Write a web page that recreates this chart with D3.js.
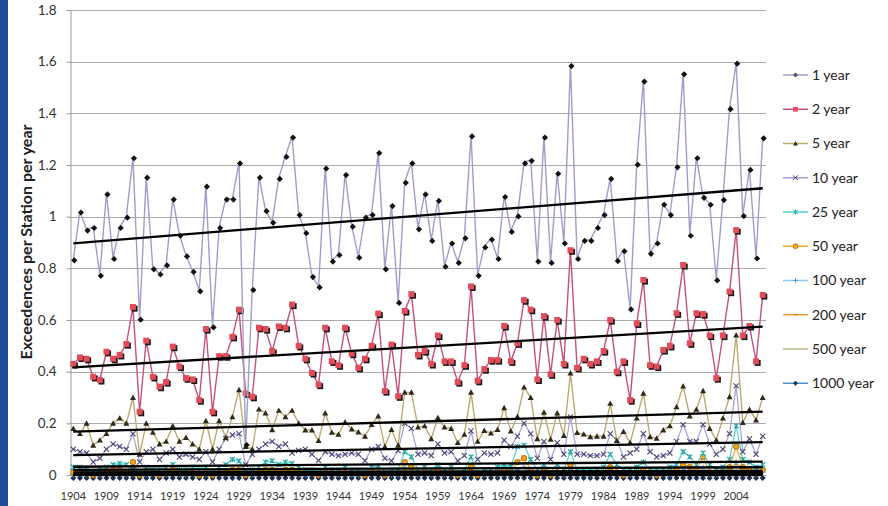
<!DOCTYPE html>
<head>
  <meta charset="utf-8">
  <script src="https://cdn.jsdelivr.net/npm/d3@7"></script>
  <style>
    body { margin: 0; background: #fff; }
    text { font-family: Lato, "Open Sans", sans-serif; }
  </style>
</head>
<body>
<script>

  // ---- data ----
  let years = d3.range(1904, 2009);
  let xTickLabels = ["1904", "1909", "1914", "1919", "1924", "1929", "1934", "1939", "1944", "1949", "1954",
    "1959", "1964", "1969", "1974", "1979", "1984", "1989", "1994", "1999", "2004"];
  let yTicks = [0, 0.2, 0.4, 0.6, 0.8, 1, 1.2, 1.4, 1.6, 1.8];
  let seriesNames = ["1 year", "2 year", "5 year", "10 year", "25 year", "50 year", "100 year", "200 year", "500 year", "1000 year"];

  let yr1 = [
    0.835, 1.02, 0.95, 0.96, 0.775, 1.09, 0.84, 0.96, 1.0, 1.23,
    0.605, 1.155, 0.80, 0.78, 0.815, 1.07, 0.93, 0.85, 0.79, 0.715,
    1.12, 0.575, 0.96, 1.07, 1.07, 1.21, 0.12, 0.72, 1.155, 1.025,
    0.98, 1.15, 1.235, 1.31, 1.01, 0.94, 0.77, 0.73, 1.19, 0.83,
    0.855, 1.165, 0.965, 0.845, 1.0, 1.01, 1.25, 0.80, 1.045, 0.67,
    1.135, 1.21, 0.955, 1.09, 0.91, 1.065, 0.81, 0.90, 0.825, 0.92,
    1.315, 0.775, 0.885, 0.915, 0.84, 1.08, 0.945, 1.005, 1.21, 1.22,
    0.83, 1.31, 0.825, 1.17, 0.90, 1.587, 0.84, 0.91, 0.91, 0.96,
    1.01, 1.15, 0.832, 0.87, 0.645, 1.205, 1.527, 0.86, 0.90, 1.05,
    1.01, 1.195, 1.555, 0.93, 1.23, 1.077, 1.05, 0.757, 1.068, 1.42,
    1.596, 1.006, 1.185, 0.842, 1.307];

  let yr2 = [
    0.43, 0.455, 0.45, 0.38, 0.368, 0.477, 0.45, 0.465, 0.507, 0.65,
    0.245, 0.52, 0.38, 0.342, 0.36, 0.497, 0.42, 0.375, 0.37, 0.29,
    0.565, 0.245, 0.46, 0.46, 0.535, 0.64, 0.316, 0.303, 0.57, 0.565,
    0.48, 0.575, 0.57, 0.66, 0.50, 0.45, 0.395, 0.35, 0.57, 0.44,
    0.425, 0.57, 0.47, 0.415, 0.45, 0.50, 0.625, 0.325, 0.505, 0.305,
    0.635, 0.70, 0.465, 0.48, 0.43, 0.54, 0.44, 0.44, 0.36, 0.425,
    0.73, 0.365, 0.41, 0.445, 0.445, 0.577, 0.44, 0.51, 0.677, 0.64,
    0.37, 0.615, 0.39, 0.60, 0.43, 0.87, 0.415, 0.45, 0.43, 0.44,
    0.48, 0.60, 0.40, 0.44, 0.29, 0.587, 0.755, 0.425, 0.42, 0.484,
    0.50, 0.626, 0.813, 0.51, 0.626, 0.623, 0.54, 0.375, 0.54, 0.71,
    0.948, 0.54, 0.577, 0.44, 0.697];

  let yr5 = [
    0.18, 0.16, 0.20, 0.115, 0.135, 0.16, 0.20, 0.22, 0.20, 0.30,
    0.08, 0.20, 0.165, 0.12, 0.13, 0.19, 0.13, 0.145, 0.12, 0.10,
    0.21, 0.10, 0.21, 0.145, 0.225, 0.33, 0.11, 0.10, 0.255, 0.24,
    0.175, 0.25, 0.225, 0.25, 0.20, 0.174, 0.174, 0.133, 0.24, 0.165,
    0.157, 0.205, 0.178, 0.166, 0.15, 0.195, 0.228, 0.11, 0.176, 0.115,
    0.32, 0.32, 0.185, 0.19, 0.14, 0.222, 0.185, 0.18, 0.125, 0.157,
    0.32, 0.13, 0.172, 0.162, 0.176, 0.26, 0.17, 0.226, 0.34, 0.30,
    0.14, 0.243, 0.138, 0.24, 0.153, 0.394, 0.164, 0.158, 0.148, 0.15,
    0.15, 0.277, 0.133, 0.168, 0.125, 0.22, 0.316, 0.148, 0.142, 0.174,
    0.19, 0.264, 0.344, 0.228, 0.254, 0.326, 0.18, 0.135, 0.22, 0.303,
    0.542, 0.203, 0.254, 0.213, 0.30];

  let yr10 = [
    0.10, 0.09, 0.085, 0.05, 0.065, 0.10, 0.12, 0.11, 0.10, 0.16,
    0.05, 0.09, 0.10, 0.06, 0.085, 0.10, 0.07, 0.08, 0.07, 0.06,
    0.09, 0.05, 0.10, 0.14, 0.155, 0.16, 0.04, 0.08, 0.10, 0.12,
    0.13, 0.11, 0.12, 0.085, 0.095, 0.10, 0.08, 0.056, 0.09, 0.08,
    0.075, 0.08, 0.085, 0.08, 0.055, 0.10, 0.11, 0.065, 0.055, 0.095,
    0.20, 0.18, 0.08, 0.085, 0.075, 0.12, 0.085, 0.09, 0.055, 0.075,
    0.17, 0.06, 0.085, 0.08, 0.085, 0.135, 0.11, 0.15, 0.20, 0.16,
    0.065, 0.13, 0.06, 0.125, 0.08, 0.225, 0.08, 0.08, 0.075, 0.075,
    0.08, 0.16, 0.135, 0.07, 0.085, 0.10, 0.16, 0.09, 0.07, 0.075,
    0.085, 0.13, 0.195, 0.13, 0.13, 0.195, 0.12, 0.08, 0.10, 0.16,
    0.345, 0.09, 0.14, 0.08, 0.15];

  let yr25 = [
    0.03, 0.03, 0.02, 0.01, 0.02, 0.03, 0.04, 0.045, 0.04, 0.02,
    0.01, 0.03, 0.02, 0.02, 0.03, 0.04, 0.02, 0.02, 0.03, 0.02,
    0.03, 0.01, 0.03, 0.04, 0.06, 0.055, 0.01, 0.02, 0.03, 0.05,
    0.055, 0.04, 0.05, 0.045, 0.03, 0.02, 0.02, 0.01, 0.03, 0.02,
    0.02, 0.03, 0.02, 0.02, 0.01, 0.03, 0.035, 0.01, 0.02, 0.02,
    0.09, 0.07, 0.02, 0.03, 0.02, 0.04, 0.02, 0.03, 0.01, 0.02,
    0.07, 0.01, 0.02, 0.02, 0.03, 0.04, 0.03, 0.11, 0.115, 0.06,
    0.02, 0.04, 0.01, 0.04, 0.02, 0.09, 0.02, 0.02, 0.02, 0.02,
    0.03, 0.08, 0.04, 0.02, 0.02, 0.03, 0.05, 0.02, 0.02, 0.02,
    0.03, 0.04, 0.09, 0.07, 0.04, 0.085, 0.04, 0.02, 0.03, 0.06,
    0.19, 0.06, 0.05, 0.03, 0.04];

  let yr50 = [
    0.01, 0.01, 0.01, 0, 0.01, 0.01, 0.02, 0.02, 0.01, 0.05,
    0, 0.01, 0.01, 0, 0.01, 0.02, 0.01, 0.01, 0.01, 0,
    0.01, 0, 0.01, 0.01, 0.02, 0.02, 0, 0.01, 0.01, 0.02,
    0.02, 0.01, 0.02, 0.02, 0.01, 0.01, 0.01, 0, 0.01, 0.01,
    0.01, 0.01, 0.01, 0.01, 0, 0.01, 0.01, 0, 0.01, 0.01,
    0.05, 0.03, 0.01, 0.01, 0.01, 0.02, 0.01, 0.01, 0, 0.01,
    0.03, 0, 0.01, 0.01, 0.01, 0.02, 0.01, 0.05, 0.065, 0.02,
    0, 0.02, 0, 0.01, 0.01, 0.04, 0.01, 0.01, 0.01, 0.01,
    0.01, 0.03, 0.01, 0, 0.01, 0.01, 0.02, 0.01, 0, 0.01,
    0.01, 0.02, 0.04, 0.03, 0.02, 0.07, 0.01, 0.01, 0.01, 0.03,
    0.11, 0.03, 0.02, 0.01, 0.02];

  let yr100 = [
    0, 0.01, 0, 0, 0, 0.01, 0.01, 0.01, 0, 0.02,
    0, 0, 0.01, 0, 0, 0.01, 0, 0, 0.01, 0,
    0, 0, 0.01, 0, 0.01, 0.01, 0, 0, 0.01, 0.01,
    0.01, 0.01, 0.01, 0.01, 0, 0, 0.01, 0, 0, 0.01,
    0, 0.01, 0, 0, 0, 0.01, 0.01, 0, 0, 0,
    0.03, 0.02, 0, 0.01, 0, 0.01, 0, 0.01, 0, 0,
    0.02, 0, 0, 0.01, 0, 0.01, 0.01, 0.02, 0.03, 0.01,
    0, 0.01, 0, 0.01, 0, 0.02, 0, 0.01, 0, 0.01,
    0, 0.02, 0.01, 0, 0, 0.01, 0.01, 0, 0, 0.01,
    0, 0.01, 0.02, 0.01, 0.01, 0.03, 0, 0, 0.01, 0.02,
    0.05, 0.02, 0.01, 0, 0.01];

  let yr200 = [
    0, 0, 0, 0, 0, 0, 0.01, 0, 0, 0.03,
    0, 0, 0, 0, 0, 0.01, 0, 0, 0, 0,
    0, 0, 0, 0, 0.01, 0.01, 0, 0, 0, 0.01,
    0.01, 0, 0.01, 0, 0, 0, 0, 0, 0, 0,
    0, 0, 0, 0, 0, 0, 0.01, 0, 0, 0,
    0.02, 0.01, 0, 0, 0, 0, 0, 0, 0, 0,
    0.01, 0, 0, 0, 0, 0, 0, 0.02, 0.03, 0,
    0, 0, 0, 0, 0, 0.02, 0, 0, 0, 0,
    0, 0.01, 0, 0, 0, 0, 0.01, 0, 0, 0,
    0, 0, 0.01, 0.01, 0, 0.03, 0, 0, 0, 0.01,
    0.04, 0.01, 0, 0, 0.01];

  let yr500 = [
    0, 0, 0, 0, 0, 0, 0, 0, 0, 0.01,
    0, 0, 0, 0, 0, 0, 0, 0, 0, 0,
    0, 0, 0, 0, 0, 0, 0, 0, 0, 0,
    0, 0, 0, 0, 0, 0, 0, 0, 0, 0,
    0, 0, 0, 0, 0, 0, 0, 0, 0, 0,
    0.01, 0, 0, 0, 0, 0, 0, 0, 0, 0,
    0, 0, 0, 0, 0, 0, 0, 0, 0.01, 0,
    0, 0, 0, 0, 0, 0.01, 0, 0, 0, 0,
    0, 0, 0, 0, 0, 0, 0, 0, 0, 0,
    0, 0, 0, 0, 0, 0.01, 0, 0, 0, 0,
    0.02, 0, 0, 0, 0];

  let yr1000 = [
    0, 0, 0, 0, 0, 0, 0, 0, 0, 0,
    0, 0, 0, 0, 0, 0, 0, 0, 0, 0,
    0, 0, 0, 0, 0, 0, 0, 0, 0, 0,
    0, 0, 0, 0, 0, 0, 0, 0, 0, 0,
    0, 0, 0, 0, 0, 0, 0, 0, 0, 0,
    0, 0, 0, 0, 0, 0, 0, 0, 0, 0,
    0, 0, 0, 0, 0, 0, 0, 0, 0, 0,
    0, 0, 0, 0, 0, 0, 0, 0, 0, 0,
    0, 0, 0, 0, 0, 0, 0, 0, 0, 0,
    0, 0, 0, 0, 0, 0, 0, 0, 0, 0,
    0, 0, 0, 0, 0];

  // linear trend line ends (first year, last year), one per series
  let trendStart = [0.897, 0.417, 0.168, 0.077, 0.032, 0.02, 0.01, 0.005, 0.002, 0];
  let trendEnd = [1.11, 0.574, 0.245, 0.127, 0.052, 0.03, 0.016, 0.01, 0.004, 0];

  let seriesValues = [yr1, yr2, yr5, yr10, yr25, yr50, yr100, yr200, yr500, yr1000];

  // ---- look ----
  let lineColors = ["#9e9ecb", "#c4507e", "#bcaa70", "#a59dd6", "#52d0d0", "#f5a51e", "#8fcbee", "#e8a23a", "#b8b68c", "#4a90d2"];
  let markerFill = ["#111", "#e24c58", "#2e2a1a", "none", "none", "#f5a51e", "none", "none", "none", "#1c2c50"];
  let markerStroke = ["none", "none", "none", "#4a4472", "#2aa8a8", "#c47a10", "#5a9ccc", "#c07a20", "none", "none"];
  let markerType = ["diamond", "square", "triangle", "x", "asterisk", "circle", "plus", "dash", "none", "diamond"];
  let markerSize = [3.1, 3, 3, 2.6, 2.5, 2.6, 2.5, 2.5, 0, 3];

  let svg_width = 888;
  let svg_height = 506;
  let plot = {left: 70, right: 766, top: 10, bottom: 475};

  let svg = d3.select("body").append("svg")
          .attr("width", svg_width)
          .attr("height", svg_height);

  svg.append("rect")
          .attr("width", svg_width)
          .attr("height", svg_height)
          .attr("fill", "#fff");

  // blue slide edge on the left
  svg.append("rect")
          .attr("x", 0)
          .attr("y", 0)
          .attr("width", 8)
          .attr("height", svg_height)
          .attr("fill", "#1f4c99");

  let xScale = d3.scaleBand()
          .domain(years)
          .range([plot.left, plot.right]);

  let cx = function (i) {
    return xScale(years[i]) + xScale.bandwidth() / 2;
  };

  let yScale = d3.scaleLinear()
          .domain([0, 1.8])
          .range([plot.bottom, plot.top]);

  // gridlines
  svg.append("g")
          .selectAll("line")
          .data(yTicks)
          .join("line")
          .attr("x1", plot.left)
          .attr("x2", plot.right)
          .attr("y1", d => Math.round(yScale(d)) + 0.5)
          .attr("y2", d => Math.round(yScale(d)) + 0.5)
          .attr("stroke", "#ababab")
          .attr("stroke-width", 1);

  let y_axis = d3.axisLeft(yScale)
          .tickValues(yTicks)
          .tickSize(4)
          .tickSizeOuter(0)
          .tickPadding(10)
          .tickFormat(d => String(+d.toFixed(1)));

  let gy = svg.append("g")
          .attr("transform", "translate(" + (plot.left + 0.5) + ",0)")
          .call(y_axis);
  gy.select(".domain").attr("stroke", "#9a9a9a");
  gy.selectAll(".tick line").attr("stroke", "#9a9a9a");
  gy.selectAll("text")
          .style("font-size", "13.5px")
          .attr("fill", "#333");

  let x_axis = d3.axisBottom(xScale)
          .tickValues(years.filter((d, i) => i % 5 === 0))
          .tickFormat((d, i) => xTickLabels[i])
          .tickSize(0)
          .tickPadding(17);

  let gx = svg.append("g")
          .attr("transform", "translate(0," + plot.bottom + ")")
          .call(x_axis);
  gx.select(".domain").remove();
  gx.selectAll("text")
          .style("font-size", "11px")
          .attr("fill", "#333");

  // marker shapes
  let markerPath = function (type, s) {
    if (type === "diamond") return "M0," + (-s) + "L" + s + ",0L0," + s + "L" + (-s) + ",0Z";
    if (type === "square") return "M" + (-s) + "," + (-s) + "h" + 2 * s + "v" + 2 * s + "h" + (-2 * s) + "Z";
    if (type === "triangle") return "M0," + (-s) + "L" + s + "," + (0.8 * s) + "L" + (-s) + "," + (0.8 * s) + "Z";
    if (type === "x") return "M" + (-s) + "," + (-s) + "L" + s + "," + s + "M" + (-s) + "," + s + "L" + s + "," + (-s);
    if (type === "asterisk") return "M" + (-s) + "," + (-s) + "L" + s + "," + s + "M" + (-s) + "," + s + "L" + s + "," + (-s) + "M0," + (-s) + "V" + s;
    if (type === "circle") return d3.symbol(d3.symbolCircle, Math.PI * s * s)();
    if (type === "plus") return "M" + (-s) + ",0H" + s + "M0," + (-s) + "V" + s;
    if (type === "dash") return "M" + (-s) + ",0H" + s;
    return "";
  };

  let line = d3.line()
          .x((d, i) => cx(i))
          .y(d => yScale(d));

  // draw from the last series to the first so 1 year sits on top
  for (let k = seriesValues.length - 1; k >= 0; k = k - 1) {

    let g = svg.append("g");

    g.append("path")
            .datum(seriesValues[k])
            .attr("fill", "none")
            .attr("stroke", lineColors[k])
            .attr("stroke-width", k < 3 ? 1.4 : 1.2)
            .attr("d", line);

    if (markerType[k] !== "none") {

      let size = markerSize[k];

      // little dark drop shadow under the filled markers
      if (k === 1) {
        g.selectAll(".shadow")
                .data(seriesValues[k])
                .join("path")
                .attr("class", "shadow")
                .attr("transform", (d, i) => "translate(" + (cx(i) + 1.6) + "," + (yScale(d) + 1.6) + ")")
                .attr("d", markerPath(markerType[k], size))
                .attr("fill", "#1a1a1a");
      }

      g.selectAll(".mark")
              .data(seriesValues[k])
              .join("path")
              .attr("class", "mark")
              .attr("transform", (d, i) => "translate(" + (cx(i) + (k === 0 ? 1 : 0)) + "," + (yScale(d) + (k === 0 ? 1 : (k === 9 ? 3 : 0))) + ")")
              .attr("d", markerPath(markerType[k], size))
              .attr("fill", markerFill[k])
              .attr("stroke", markerStroke[k])
              .attr("stroke-width", 1.1);
    }
  }

  // trend lines
  svg.append("g")
          .selectAll("line")
          .data(seriesNames)
          .join("line")
          .attr("x1", cx(0))
          .attr("x2", cx(years.length - 1))
          .attr("y1", (d, k) => yScale(trendStart[k]))
          .attr("y2", (d, k) => yScale(trendEnd[k]))
          .attr("stroke", "#000")
          .attr("stroke-width", 2.3);

  // legend
  let legend = svg.append("g")
          .selectAll("g")
          .data(seriesNames)
          .join("g")
          .attr("transform", (d, k) => "translate(783," + (75 + k * 34.25) + ")");

  legend.append("line")
          .attr("x1", 0)
          .attr("x2", 25)
          .attr("stroke", (d, k) => lineColors[k])
          .attr("stroke-width", 1.5);

  legend.append("path")
          .attr("transform", "translate(12.5,0)")
          .attr("d", (d, k) => markerPath(markerType[k], 2.4))
          .attr("fill", (d, k) => markerFill[k] === "#111" ? "#555" : markerFill[k])
          .attr("stroke", (d, k) => markerStroke[k])
          .attr("stroke-width", 1);

  legend.append("text")
          .attr("x", 29)
          .attr("dy", "0.35em")
          .style("font-size", "14px")
          .attr("fill", "#222")
          .text(d => d);

  // y axis title
  svg.append("text")
          .attr("transform", "translate(26," + 242 + ") rotate(-90)")
          .attr("text-anchor", "middle")
          .attr("dy", "0.35em")
          .style("font-size", "16px")
          .style("font-weight", "bold")
          .attr("fill", "#222")
          .text("Exceedences per Station per year");

</script>
</body>
